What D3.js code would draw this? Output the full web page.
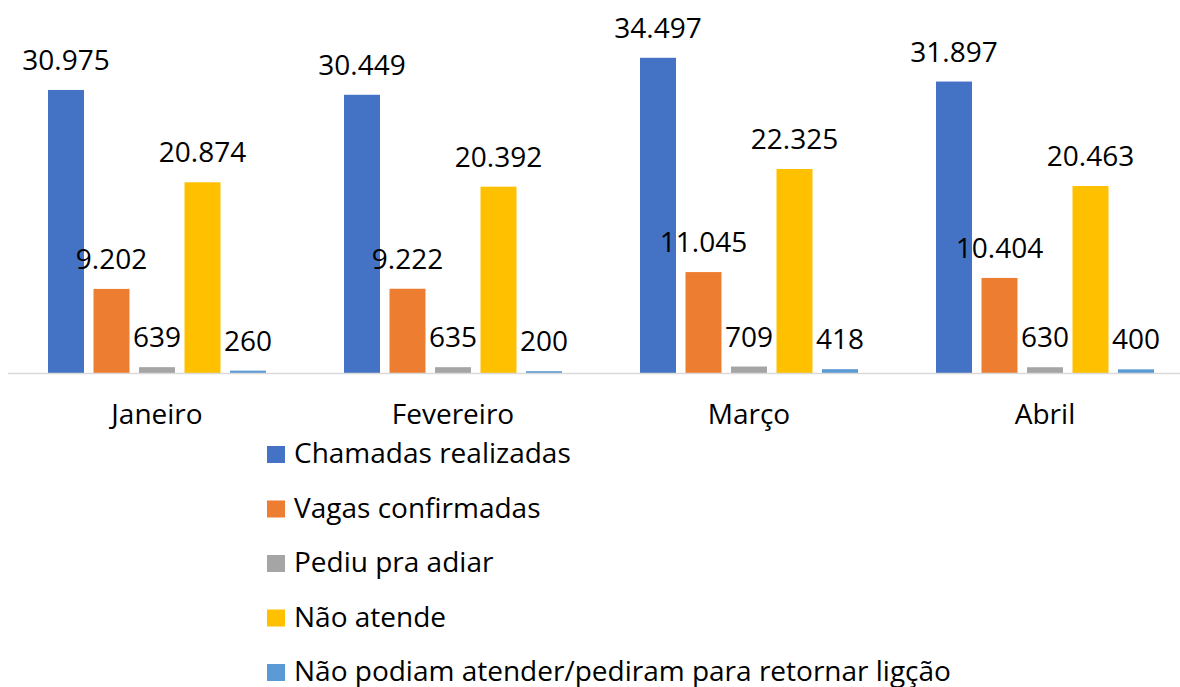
<!DOCTYPE html>
<html>
<head>
<meta charset="utf-8">
<script src="https://cdn.jsdelivr.net/npm/d3@7"></script>
<style>
  body { margin: 0; background: #fff; }
  svg text { font-family: "Open Sans", "Noto Sans", sans-serif; fill: #000; }
</style>
</head>
<body>
<div id="chart"></div>
<script>
// data
const months = ["Janeiro", "Fevereiro", "Março", "Abril"];
const seriesNames = [
  "Chamadas realizadas",
  "Vagas confirmadas",
  "Pediu pra adiar",
  "Não atende",
  "Não podiam atender/pediram para retornar ligção"
];
const seriesColors = ["#4472C4", "#ED7D31", "#A5A5A5", "#FFC000", "#5B9BD5"];
const chamadas = [30975, 30449, 34497, 31897];
const vagas = [9202, 9222, 11045, 10404];
const adiar = [639, 635, 709, 630];
const naoAtende = [20874, 20392, 22325, 20463];
const retornar = [260, 200, 418, 400];
const seriesValues = [chamadas, vagas, adiar, naoAtende, retornar];

let width = 1180;
let height = 687;
let baseY = 373;
let topY = 7.5;

let svg = d3.select("#chart").append("svg")
  .attr("width", width)
  .attr("height", height);

let x0 = d3.scaleBand()
  .domain(months)
  .range([9, 1193])
  .padding(0);

let x1 = d3.scaleBand()
  .domain(d3.range(seriesNames.length))
  .range([39, x0.bandwidth() - 39])
  .paddingInner(0.209)
  .paddingOuter(0);

let y = d3.scaleLinear()
  .domain([0, 40000])
  .range([baseY, topY]);

let fmt = function(v) {
  return d3.format(",")(v).replace(/,/g, ".");
};

let groups = svg.selectAll("g.month")
  .data(months)
  .enter()
  .append("g")
  .attr("class", "month")
  .attr("transform", function(d) { return "translate(" + x0(d) + ",0)"; });

groups.each(function(m, mi) {
  let g = d3.select(this);
  let rows = seriesValues.map(function(vals, si) { return { si: si, v: vals[mi] }; });

  g.selectAll("rect")
    .data(rows)
    .enter()
    .append("rect")
    .attr("x", function(d) { return x1(d.si); })
    .attr("y", function(d) { return y(d.v); })
    .attr("width", x1.bandwidth())
    .attr("height", function(d) { return baseY - y(d.v); })
    .attr("fill", function(d) { return seriesColors[d.si]; });
});

// axis line
svg.append("line")
  .attr("x1", 8)
  .attr("x2", width)
  .attr("y1", baseY + 0.5)
  .attr("y2", baseY + 0.5)
  .attr("stroke", "#D9D9D9")
  .attr("stroke-width", 1.5);

// value labels (on top of everything)
groups.each(function(m, mi) {
  let g = d3.select(this);
  let rows = seriesValues.map(function(vals, si) { return { si: si, v: vals[mi] }; });
  g.selectAll("text.val")
    .data(rows)
    .enter()
    .append("text")
    .attr("class", "val")
    .attr("x", function(d) { return x1(d.si) + x1.bandwidth() / 2; })
    .attr("y", function(d) { return y(d.v) - 20; })
    .attr("text-anchor", "middle")
    .style("font-size", "28px")
    .text(function(d) { return fmt(d.v); });
});

// category labels
svg.selectAll("text.cat")
  .data(months)
  .enter()
  .append("text")
  .attr("class", "cat")
  .attr("x", function(d) { return x0(d) + x0.bandwidth() / 2; })
  .attr("y", 424)
  .attr("text-anchor", "middle")
  .style("font-size", "28px")
  .text(function(d) { return d; });

// legend
let legend = svg.append("g")
  .attr("transform", "translate(267,463)");

let items = legend.selectAll("g.item")
  .data(seriesNames)
  .enter()
  .append("g")
  .attr("class", "item")
  .attr("transform", function(d, i) { return "translate(0," + (i * 54.5) + ")"; });

items.append("rect")
  .attr("x", 0)
  .attr("y", -17)
  .attr("width", 18)
  .attr("height", 17)
  .attr("fill", function(d, i) { return seriesColors[i]; });

items.append("text")
  .attr("x", 27)
  .attr("y", 0)
  .style("font-size", "28px")
  .text(function(d) { return d; });
</script>
</body>
</html>
